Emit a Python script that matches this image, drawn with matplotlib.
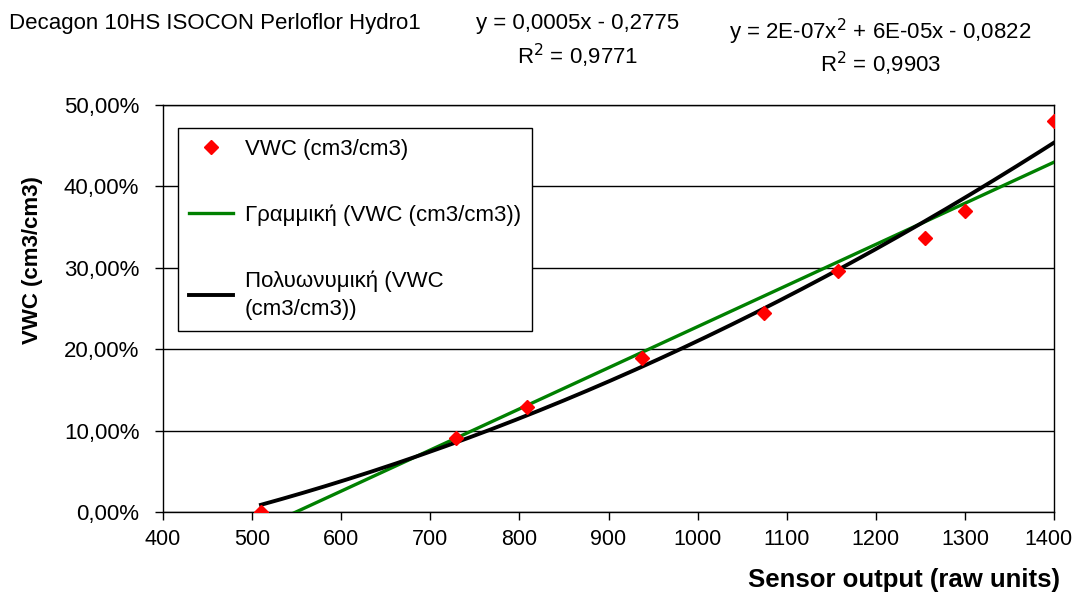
import numpy as np
import matplotlib.pyplot as plt
import matplotlib.transforms as mtransforms
from matplotlib.ticker import FuncFormatter

# =======================
# DATA
# =======================
sensor_raw = [510, 729, 809, 938, 1074, 1157, 1255, 1300, 1400]
vwc = [0.0, 0.091, 0.129, 0.189, 0.245, 0.296, 0.336, 0.370, 0.480]
x_ticks = [400, 500, 600, 700, 800, 900, 1000, 1100, 1200, 1300, 1400]
y_ticks = [0.0, 0.1, 0.2, 0.3, 0.4, 0.5]

plt.rcParams['font.family'] = ['Liberation Sans', 'DejaVu Sans']
FS = 16

# trendlines fitted on the points, like the spreadsheet did
lin = np.polyfit(sensor_raw, vwc, 1)
poly = np.polyfit(sensor_raw, vwc, 2)
xs = np.linspace(min(sensor_raw), max(sensor_raw), 300)

fig = plt.figure(figsize=(10.75, 5.93), dpi=100)
ax = fig.add_axes([0.1516, 0.1366, 0.8289, 0.6864])

ax.plot(sensor_raw, vwc, 'D', color='#ff0000', markersize=7, zorder=5,
        label='VWC (cm3/cm3)')
ax.plot(xs, np.polyval(lin, xs), color='#008000', lw=2.4, zorder=3,
        label='Γραμμική (VWC (cm3/cm3))')
ax.plot(xs, np.polyval(poly, xs), color='black', lw=2.8, zorder=4,
        label='Πολυωνυμική (VWC\n(cm3/cm3))')

ax.set_xlim(400, 1400)
ax.set_ylim(0, 0.5)
ax.set_xticks(x_ticks)
ax.set_yticks(y_ticks)
ax.yaxis.set_major_formatter(FuncFormatter(lambda v, p: f"{v*100:.2f}%".replace('.', ',')))
ax.tick_params(direction='out', length=6, width=1, labelsize=FS, colors='black')
ax.tick_params(axis='y', pad=11)
ax.tick_params(axis='x', pad=6, labelsize=15.5)
ax.grid(axis='y', color='black', lw=1)
ax.set_axisbelow(True)
for s in ax.spines.values():
    s.set_color('black')
    s.set_linewidth(1)
# nudge the last x label a few pixels left so it stays inside the figure
last = ax.get_xticklabels()[-1]
last.set_transform(last.get_transform() +
                   mtransforms.ScaledTranslation(-4 / 72, 0, fig.dpi_scale_trans))

fig.text(0.030, 0.5616, 'VWC (cm3/cm3)', rotation=90, ha='center', va='center',
         fontsize=FS, fontweight='bold')
fig.text(0.986, 0.022, 'Sensor output (raw units)', ha='right', va='center',
         fontsize=18.5, fontweight='bold')

leg = ax.legend(loc='upper left', bbox_to_anchor=(0.0168, 0.943), fontsize=FS,
                frameon=True, fancybox=False, edgecolor='black', framealpha=1,
                handlelength=2.0, handletextpad=0.5, labelspacing=2.0,
                borderpad=0.5, borderaxespad=0)
leg.get_frame().set_linewidth(1)
for t in leg.get_texts():
    t.set_linespacing(1.4)

fig.text(0.008, 0.960, 'Decagon 10HS ISOCON Perloflor Hydro1', fontsize=FS, va='center')
fig.text(0.537, 0.978, 'y = 0,0005x - 0,2775\nR$^2$ = 0,9771', fontsize=FS,
         va='top', ha='center', multialignment='center', linespacing=1.35)
fig.text(0.819, 0.972, 'y = 2E-07x$^2$ + 6E-05x - 0,0822\nR$^2$ = 0,9903', fontsize=FS,
         va='top', ha='center', multialignment='center', linespacing=1.12)

plt.savefig('out.png')
